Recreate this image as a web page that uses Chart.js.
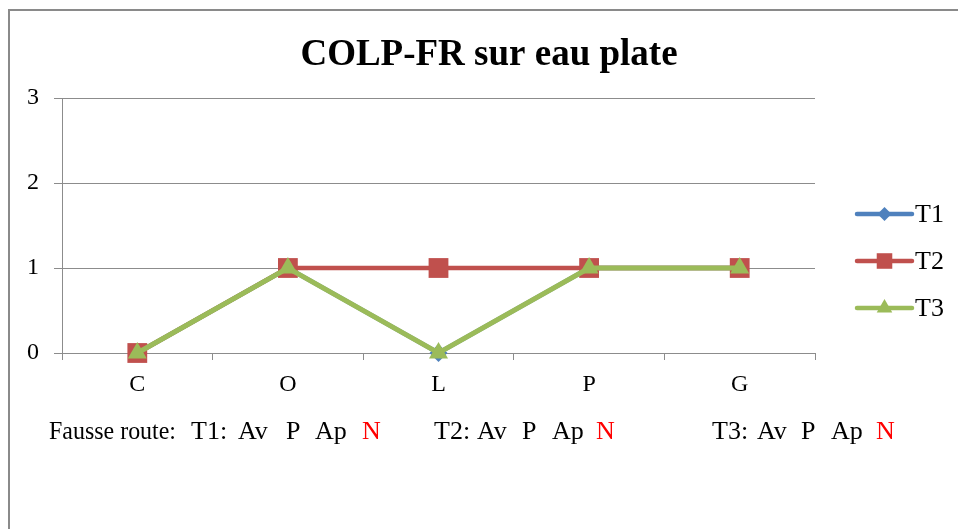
<!DOCTYPE html>
<html>
<head>
<meta charset="utf-8">
<script src="https://cdn.jsdelivr.net/npm/chart.js@4/dist/chart.umd.min.js"></script>
<style>
html, body { margin: 0; padding: 0; background: #ffffff; }
#wrap { width: 958px; height: 529px; position: relative; }
</style>
</head>
<body>
<div id="wrap"><canvas id="c" width="958" height="529"></canvas></div>
<script>
// ---- data ----
const categories = ['C', 'O', 'L', 'P', 'G'];
const seriesNames = ['T1', 'T2', 'T3'];
const t1Values = [0, 1, 0, 1, 1];
const t2Values = [0, 1, 1, 1, 1];
const t3Values = [0, 1, 0, 1, 1];
const yTickValues = [0, 1, 2, 3];
const chartTitle = 'COLP-FR sur eau plate';
const footLabel = 'Fausse route:';
const footGroups = ['T1:', 'T2:', 'T3:'];
const footOptions = ['Av', 'P', 'Ap', 'N'];

// ---- styles / layout ----
const SERIF = "'Liberation Serif', 'Times New Roman', serif";
const colors = ['#4F81BD', '#C0504D', '#9BBB59'];
const pointStyles = ['rectRot', 'rect', 'triangle'];
const pointRadii = [9, 14, 11];
const legendRadii = [7, 11, 9];
const gridColor = '#8c8c8c';

const layout = {
  titleX: 489, titleY: 55,
  legendLineX0: 857, legendLineX1: 912, legendTextX: 915,
  legendY: [214, 261, 308],
  footY: 432,
  footLabelX: 49, footLabelMaxW: 127,
  footGroupX: [
    [191, 238, 286, 315, 362],
    [434, 477, 522, 552, 596],
    [712, 757, 801, 831, 876]
  ]
};

const seriesValues = [t1Values, t2Values, t3Values];

const datasets = seriesNames.map((name, i) => ({
  label: name,
  data: seriesValues[i],
  borderColor: colors[i],
  backgroundColor: colors[i],
  pointBackgroundColor: colors[i],
  pointBorderColor: colors[i],
  pointBorderWidth: 0,
  pointStyle: pointStyles[i],
  pointRadius: pointRadii[i],
  pointHoverRadius: pointRadii[i],
  borderWidth: i === 2 ? 5 : 4.5,
  tension: 0,
  fill: false,
  clip: false,
  order: 3 - i
}));

const decorPlugin = {
  id: 'decor',
  beforeDraw(chart) {
    const ctx = chart.ctx;
    ctx.save();
    ctx.fillStyle = '#ffffff';
    ctx.fillRect(0, 0, chart.width, chart.height);
    ctx.strokeStyle = '#8a8a8a';
    ctx.lineWidth = 2;
    ctx.beginPath();
    ctx.moveTo(9, chart.height + 5);
    ctx.lineTo(9, 10);
    ctx.lineTo(chart.width + 5, 10);
    ctx.stroke();
    ctx.restore();
  },
  afterDraw(chart) {
    const ctx = chart.ctx;
    ctx.save();
    // title
    ctx.fillStyle = '#000000';
    ctx.font = 'bold 37px ' + SERIF;
    ctx.textAlign = 'center';
    ctx.textBaseline = 'middle';
    ctx.fillText(chartTitle, layout.titleX, layout.titleY);

    // legend
    ctx.textAlign = 'left';
    ctx.font = '26px ' + SERIF;
    chart.data.datasets.forEach((ds, i) => {
      const y = layout.legendY[i];
      ctx.strokeStyle = ds.borderColor;
      ctx.lineWidth = 4.5;
      ctx.lineCap = 'round';
      ctx.beginPath();
      ctx.moveTo(layout.legendLineX0, y);
      ctx.lineTo(layout.legendLineX1, y);
      ctx.stroke();
      ctx.fillStyle = ds.backgroundColor;
      const cx = (layout.legendLineX0 + layout.legendLineX1) / 2;
      Chart.helpers.drawPoint(ctx, {
        pointStyle: ds.pointStyle, radius: legendRadii[i], rotation: 0, borderWidth: 0
      }, cx, y);
      ctx.fillStyle = '#000000';
      ctx.fillText(ds.label, layout.legendTextX, y + 1);
    });

    // footnote
    ctx.font = '26px ' + SERIF;
    ctx.textBaseline = 'middle';
    ctx.fillStyle = '#000000';
    ctx.fillText(footLabel, layout.footLabelX, layout.footY, layout.footLabelMaxW);
    footGroups.forEach((g, gi) => {
      const xs = layout.footGroupX[gi];
      ctx.fillStyle = '#000000';
      ctx.fillText(g, xs[0], layout.footY);
      footOptions.forEach((o, oi) => {
        ctx.fillStyle = (o === 'N') ? '#FF0000' : '#000000';
        ctx.fillText(o, xs[oi + 1], layout.footY);
      });
    });
    ctx.restore();
  }
};

new Chart(document.getElementById('c'), {
  type: 'line',
  data: { labels: categories, datasets: datasets },
  plugins: [decorPlugin],
  options: {
    responsive: false,
    animation: false,
    devicePixelRatio: 1,
    events: [],
    layout: { padding: { left: 0, top: 98, right: 143, bottom: 136 } },
    plugins: {
      legend: { display: false },
      title: { display: false },
      tooltip: { enabled: false }
    },
    scales: {
      x: {
        type: 'category',
        offset: true,
        afterFit(scale) { scale.height = 40; },
        grid: {
          display: true,
          offset: true,
          drawOnChartArea: false,
          drawTicks: true,
          tickLength: 7,
          color: gridColor,
          lineWidth: 1
        },
        border: { display: true, color: gridColor, width: 1 },
        ticks: {
          color: '#000000',
          font: { family: SERIF, size: 24 },
          padding: 10,
          maxRotation: 0,
          autoSkip: false
        }
      },
      y: {
        type: 'linear',
        min: yTickValues[0],
        max: yTickValues[yTickValues.length - 1],
        afterFit(scale) { scale.width = 62; },
        afterBuildTicks(scale) { scale.ticks = yTickValues.map(v => ({ value: v })); },
        grid: {
          color: gridColor,
          lineWidth: 1,
          drawTicks: true,
          tickLength: 8
        },
        border: { display: true, color: gridColor, width: 1 },
        ticks: {
          color: '#000000',
          font: { family: SERIF, size: 24 },
          padding: 15
        }
      }
    }
  }
});
</script>
</body>
</html>
